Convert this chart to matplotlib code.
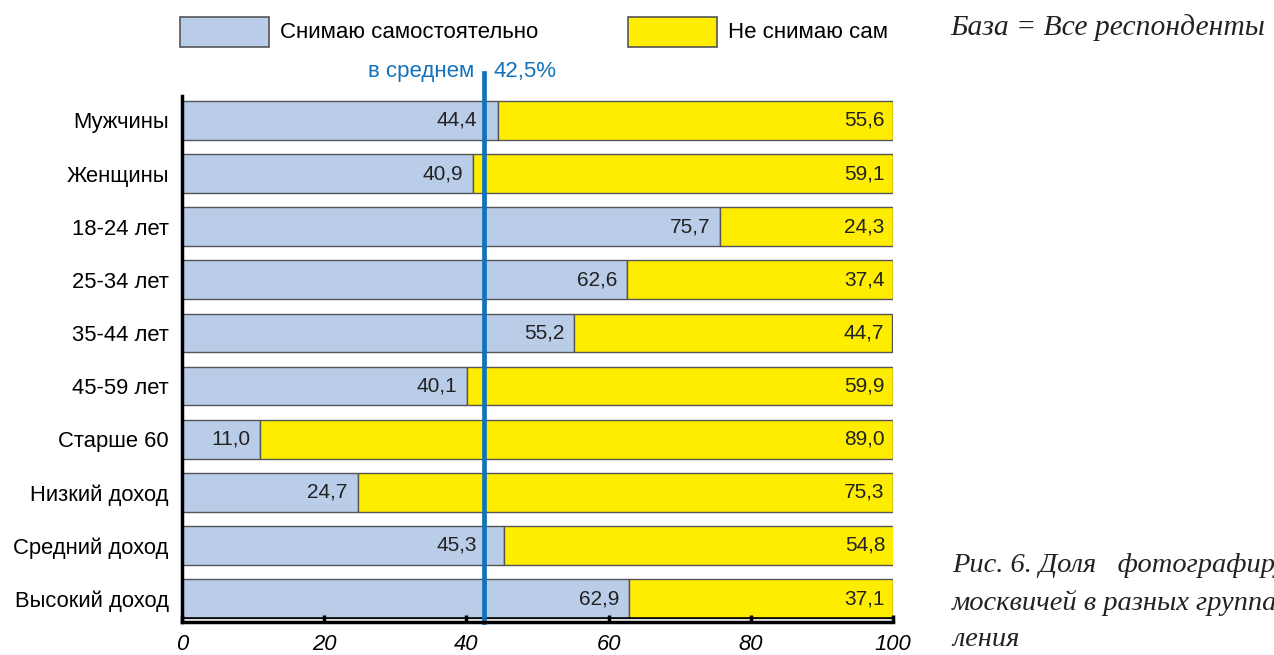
import matplotlib.pyplot as plt
from matplotlib.patches import Rectangle

# данные
groups = ['Мужчины', 'Женщины', '18-24 лет', '25-34 лет', '35-44 лет',
          '45-59 лет', 'Старше 60', 'Низкий доход', 'Средний доход', 'Высокий доход']
self_shoot = [44.4, 40.9, 75.7, 62.6, 55.2, 40.1, 11.0, 24.7, 45.3, 62.9]
not_self = [55.6, 59.1, 24.3, 37.4, 44.7, 59.9, 89.0, 75.3, 54.8, 37.1]
average = 42.5
x_ticks = [0, 20, 40, 60, 80, 100]

BLUE = '#b9cde9'
YELLOW = '#ffed00'
LINE = '#1273bb'

plt.rcParams['font.family'] = ['Liberation Sans', 'DejaVu Sans']

fig = plt.figure(figsize=(12.74, 6.55), dpi=100)
ax = fig.add_axes([182 / 1274, 1 - 622 / 655, 711 / 1274, 526 / 655])

y = list(range(len(groups)))
h = 0.73
ax.barh(y, self_shoot, height=h, color=BLUE, edgecolor='#555555', linewidth=1)
ax.barh(y, not_self, left=self_shoot, height=h, color=YELLOW, edgecolor='#555555', linewidth=1)

def fmt(v):
    return f'{v:.1f}'.replace('.', ',')

for i in y:
    xr = self_shoot[i] - 1.4
    # подпись не должна заходить на линию среднего
    if self_shoot[i] > average and xr - 6 < average:
        xr = average - 1.0
    ax.text(xr, i, fmt(self_shoot[i]), ha='right', va='center', fontsize=15, color='#222222')
    ax.text(self_shoot[i] + not_self[i] - 1.2, i, fmt(not_self[i]),
            ha='right', va='center', fontsize=15, color='#222222')

ax.set_xlim(0, 100)
ax.set_ylim(len(groups) - 1 + 0.44, -0.46)
ax.set_yticks(y)
ax.set_yticklabels(groups, fontsize=15.8)
ax.tick_params(axis='y', length=0, pad=9.5)
ax.set_xticks(x_ticks)
ax.set_xticklabels([str(t) for t in x_ticks], fontsize=15.8, style='italic')
ax.tick_params(axis='x', direction='in', length=5, width=2.5, pad=9)

for s in ['top', 'right']:
    ax.spines[s].set_visible(False)
ax.spines['left'].set_linewidth(2.5)
ax.spines['bottom'].set_linewidth(2.5)
ax.axhline(len(groups) - 1 + h / 2, color='black', linewidth=1.2)

# средняя линия
ax.axvline(average, ymin=0, ymax=1.044, color=LINE, linewidth=3.4, clip_on=False)
fig.text(474 / 1274, 1 - 72 / 655, 'в среднем', color=LINE, fontsize=16,
         ha='right', va='center')
fig.text(494 / 1274, 1 - 72 / 655, f'{average:.1f}%'.replace('.', ','), color=LINE,
         fontsize=16, ha='left', va='center')

# легенда
for x0, col, label in [(180, BLUE, 'Снимаю самостоятельно'), (628, YELLOW, 'Не снимаю сам')]:
    fig.patches.append(Rectangle((x0 / 1274, 1 - 47 / 655), 89 / 1274, 30 / 655,
                                 transform=fig.transFigure, facecolor=col,
                                 edgecolor='#555555', linewidth=1.2))
    fig.text((x0 + 100) / 1274, 1 - 33 / 655, label, fontsize=16, ha='left', va='center')

# подписи справа
serif = dict(family=['Liberation Serif', 'DejaVu Serif'], style='italic', color='#222222')
fig.text(950 / 1274, 1 - 28 / 655, 'База = Все респонденты', fontsize=21.3, va='center', **serif)
caption = ['Рис. 6. Доля   фотографирующих', 'москвичей в разных группах насе-', 'ления']
for k, line in enumerate(caption):
    fig.text(952 / 1274, 1 - (566 + 37 * k) / 655, line, fontsize=20.5, va='center', **serif)

plt.savefig('out.png', dpi=100)
